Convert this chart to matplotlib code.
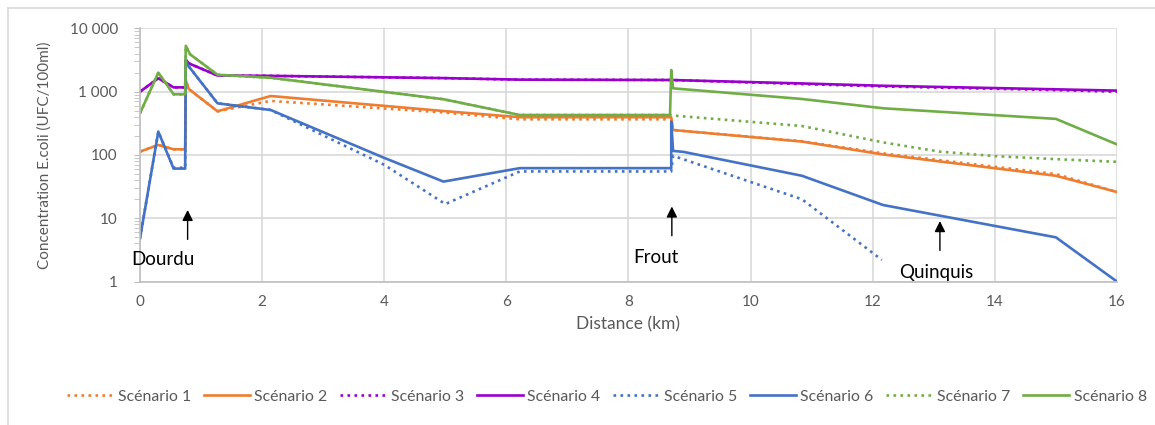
import numpy as np
import matplotlib
matplotlib.use('Agg')
import matplotlib.pyplot as plt
from matplotlib.lines import Line2D

plt.rcParams['font.family'] = ['Lato', 'DejaVu Sans']

# distances (km) et concentrations E.coli (UFC/100ml)
x_s1 = [0, 0.3, 0.55, 0.74, 0.75, 0.8, 1.27, 2.14, 4.97, 6.22, 8.7, 8.73, 10.84, 12.17, 15.0, 16.0]
y_s1 = [113, 144, 123, 123, 1500, 1100, 490, 715, 470, 366, 366, 248, 165, 106, 50, 26]

x_s2 = [0, 0.3, 0.55, 0.74, 0.75, 0.8, 1.27, 2.14, 4.97, 6.22, 8.7, 8.73, 10.84, 12.17, 15.0, 16.0]
y_s2 = [113, 144, 123, 123, 1500, 1100, 490, 855, 495, 395, 395, 248, 163, 102, 47, 26]

x_s3 = [0, 0.3, 0.55, 0.74, 0.75, 0.8, 1.27, 2.14, 4.97, 6.22, 8.7, 10.84, 12.17, 15.0, 16.0]
y_s3 = [1000, 1630, 1170, 1170, 3200, 2800, 1800, 1780, 1640, 1550, 1530, 1320, 1210, 1060, 1000]

x_s4 = [0, 0.3, 0.55, 0.74, 0.75, 0.8, 1.27, 2.14, 4.97, 6.22, 8.7, 10.84, 12.17, 15.0, 16.0]
y_s4 = [1000, 1630, 1170, 1170, 3200, 2800, 1800, 1780, 1640, 1550, 1530, 1350, 1240, 1090, 1040]

x_s5 = [0, 0.3, 0.55, 0.74, 0.75, 0.8, 1.27, 2.14, 4.0, 5.0, 6.22, 8.7, 8.73, 10.84, 12.15]
y_s5 = [4.8, 234, 63, 63, 3100, 2500, 655, 514, 70, 16.8, 55, 55, 97, 20, 2.2]

x_s6 = [0, 0.3, 0.55, 0.74, 0.75, 0.8, 1.27, 2.14, 4.0, 4.97, 6.22, 8.7, 8.7, 8.73, 8.9, 10.84, 12.17, 15.0, 16.0]
y_s6 = [4.8, 234, 61, 61, 3100, 2500, 655, 514, 90, 38, 62, 62, 336, 116, 112, 47, 16.2, 5.0, 1.0]

x_s7 = [0, 0.3, 0.55, 0.74, 0.75, 0.82, 1.27, 2.14, 4.97, 6.22, 8.68, 8.73, 10.84, 12.17, 13.1, 14.0, 15.0, 16.0]
y_s7 = [455, 2000, 910, 910, 5300, 3900, 1850, 1660, 760, 428, 428, 420, 287, 158, 113, 96, 86, 78]

x_s8 = [0, 0.3, 0.55, 0.74, 0.75, 0.82, 1.27, 2.14, 4.97, 6.22, 8.68, 8.7, 8.73, 10.84, 12.17, 15.0, 16.0]
y_s8 = [455, 2000, 910, 910, 5300, 3900, 1850, 1660, 760, 428, 428, 2200, 1130, 767, 547, 372, 147]

noms = ['Scénario 1', 'Scénario 2', 'Scénario 3', 'Scénario 4',
        'Scénario 5', 'Scénario 6', 'Scénario 7', 'Scénario 8']

y_ticks = [1, 10, 100, 1000, 10000]
y_labels = ['1', '10', '100', '1 000', '10 000']
x_ticks = [0, 2, 4, 6, 8, 10, 12, 14, 16]

orange = '#ED7D31'
violet = '#9900CC'
bleu = '#4472C4'
vert = '#70AD47'
gris = '#595959'

fig = plt.figure(figsize=(11.55, 4.25), dpi=100)
ax = fig.add_axes([0.1212, 0.3374, 0.8459, 0.5958])

series = [(x_s1, y_s1, orange, ':'), (x_s2, y_s2, orange, '-'),
          (x_s3, y_s3, violet, ':'), (x_s4, y_s4, violet, '-'),
          (x_s5, y_s5, bleu, ':'), (x_s6, y_s6, bleu, '-'),
          (x_s7, y_s7, vert, ':'), (x_s8, y_s8, vert, '-')]
for (xs, ys, c, ls), nom in zip(series, noms):
    ax.plot(xs, ys, color=c, linestyle=ls, linewidth=1.9, label=nom)

ax.set_yscale('log')
ax.set_ylim(1, 10000)
ax.set_xlim(0, 16)
ax.set_yticks(y_ticks)
ax.set_yticklabels(y_labels)
ax.set_xticks(x_ticks)
ax.grid(True, which='major', color='#D9D9D9', linewidth=1.2)
ax.set_axisbelow(True)
for s in ['top', 'right']:
    ax.spines[s].set_visible(False)
for s in ['left', 'bottom']:
    ax.spines[s].set_color('#BFBFBF')
    ax.spines[s].set_linewidth(1.2)
ax.tick_params(axis='y', which='major', length=4, color='#BFBFBF', labelsize=11, labelcolor=gris, pad=12)
ax.tick_params(axis='y', which='minor', length=4, color='#BFBFBF')
ax.tick_params(axis='x', length=0, labelsize=11, labelcolor=gris, pad=10)
ax.yaxis.set_minor_formatter(plt.NullFormatter())

ax.set_xlabel('Distance (km)', fontsize=12.5, color=gris, labelpad=5)
ax.set_ylabel('Concentration E.coli (UFC/100ml)', fontsize=11, color=gris, labelpad=13)

# fleches des affluents
fleche = dict(arrowstyle='-|>', color='black', lw=1, mutation_scale=16)
ax.annotate('', xy=(0.78, 15), xytext=(0.78, 4.2), arrowprops=fleche)
ax.annotate('', xy=(8.71, 17), xytext=(8.71, 4.8), arrowprops=fleche)
ax.annotate('', xy=(13.1, 10), xytext=(13.1, 2.8), arrowprops=fleche)
ax.text(0.37, 2.2, 'Dourdu', fontsize=13.5, ha='center', va='center')
ax.text(8.45, 2.36, 'Frout', fontsize=13.5, ha='center', va='center')
ax.text(13.04, 1.39, 'Quinquis', fontsize=13.5, ha='center', va='center')

leg = fig.legend(loc='center', bbox_to_anchor=(0.5255, 0.066), ncol=8, frameon=False,
                 fontsize=11.4, handlelength=2.9, handletextpad=0.3, columnspacing=0.8)
for t in leg.get_texts():
    t.set_color(gris)

# cadre du graphique
fig.add_artist(Line2D([8 / 1155, 8 / 1155], [0, 1 - 8 / 425], color='#D9D9D9', lw=1.2))
fig.add_artist(Line2D([8 / 1155, 1], [1 - 8 / 425, 1 - 8 / 425], color='#D9D9D9', lw=1.2))

fig.savefig('out.png', dpi=100)
